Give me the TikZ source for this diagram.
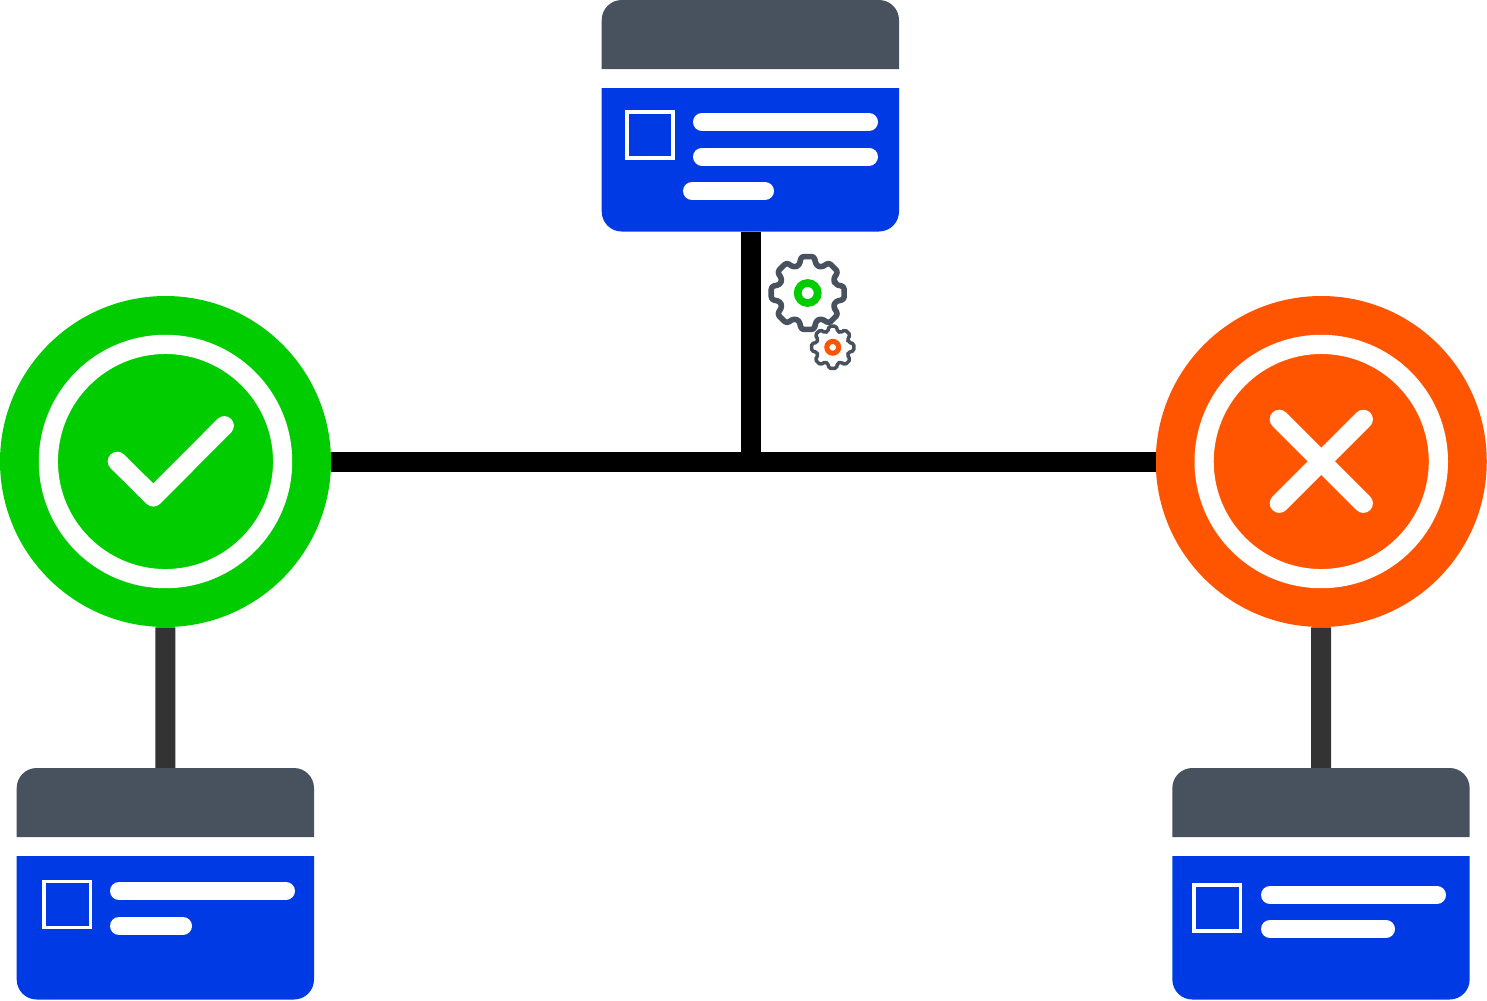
\documentclass[tikz,border=0pt]{standalone}
\usetikzlibrary{positioning}
\definecolor{okgreen}{RGB}{0,204,0}
\definecolor{failorange}{RGB}{255,85,0}
\definecolor{cardblue}{RGB}{0,58,228}
\definecolor{cardslate}{RGB}{71,82,94}
\definecolor{stemgrey}{RGB}{51,51,51}
\tikzset{
  statedisc/.style={circle,fill=#1,inner sep=0pt,minimum size=248.25pt},
  statering/.style={circle,draw=white,line width=14.4pt,inner sep=0pt,minimum size=175.7pt},
  cardbox/.style={inner sep=0pt,minimum width=223pt,minimum height=173.6pt},
  barline/.style={white,line width=13.5pt,line cap=round},
  marksign/.style={white,line width=14.4pt,line cap=round,line join=round},
  thumbbox/.style={draw=white,line width=2.4pt},
}
% header and body of a card, top left corner at #1
\newcommand{\cardshell}[1]{%
  \begin{scope}[shift={#1}]
    \fill[cardslate] (0,69) -- (0,20) arc (180:90:20 and -20) -- (277.3,0) arc (90:0:20 and -20) -- (297.3,69) -- cycle;
    \fill[cardblue] (0,88) -- (297.3,88) -- (297.3,211.5) arc (0:-90:20 and -20) -- (20,231.5) arc (270:180:20 and -20) -- cycle;
  \end{scope}}
% gear at #1, radii #2 and #3, line width #4, corners #5
\newcommand{\drawgear}[5]{%
  \begin{scope}[shift={#1}]
    \draw[cardslate,line width=#4,rounded corners=#5,line join=round] (-17:#2)
      \foreach \a in {0,45,...,315} { -- (\a-10:#3) -- (\a+10:#3) -- (\a+17:#2) -- (\a+28:#2)} -- cycle;
  \end{scope}}
\begin{document}
\begin{tikzpicture}[x=0.75pt,y=0.75pt,yscale=-1,xscale=1]
\useasboundingbox (0,0) rectangle (1487,1000);

\node[statedisc=okgreen] (okdisc) at (165.5,461.5) {};
\node[statedisc=failorange] (faildisc) at (1321.25,461.5) {};
\node[statering] (okring) at (okdisc) {};
\node[statering] (failring) at (faildisc) {};

\node[cardbox] (cardtop) at (750.35,115.75) {};
\node[cardbox] (cardok) at (165.35,884) {};
\node[cardbox] (cardfail) at (1321,884) {};
\coordinate (busjoin) at (751,461.5);

\draw[line width=15pt] (okdisc) -- (faildisc);
\draw[line width=15pt] (busjoin |- cardtop.south) -- (busjoin);
\draw[stemgrey,line width=15pt] (okdisc) -- (cardok);
\draw[stemgrey,line width=15pt] (faildisc) -- (cardfail);

\cardshell{(601.7,0)}
\cardshell{(16.7,768)}
\cardshell{(1172.35,768)}

% top card
\draw[thumbbox] (627,112) rectangle (673,158);
\draw[barline] (702,122) -- (869,122);
\draw[barline] (702,156.5) -- (869,156.5);
\draw[barline] (692,191) -- (765,191);

% left card
\draw[thumbbox] (44,881.5) rectangle (90.5,927.5);
\draw[barline] (119,891) -- (286,891);
\draw[barline] (119,926) -- (183,926);

% right card
\draw[thumbbox] (1194,885) rectangle (1240.5,931);
\draw[barline] (1270,895) -- (1437,895);
\draw[barline] (1270,929) -- (1386,929);

% marks
\draw[marksign] (117.3,461.3) -- (153.3,497) -- (224.3,425.7);
\draw[marksign] (1279.3,419.3) -- (1363.3,503.3);
\draw[marksign] (1363.3,419.3) -- (1279.3,503.3);

% gears
\drawgear{(807.7,293)}{29}{37}{4.2pt}{2pt}
\draw[okgreen,line width=5.8pt] (807.7,293) circle (10);
\drawgear{(832.7,347.3)}{16.5}{21.5}{2.6pt}{1.3pt}
\draw[failorange,line width=3.8pt] (832.7,347.3) circle (5.9);

\end{tikzpicture}
\end{document}
